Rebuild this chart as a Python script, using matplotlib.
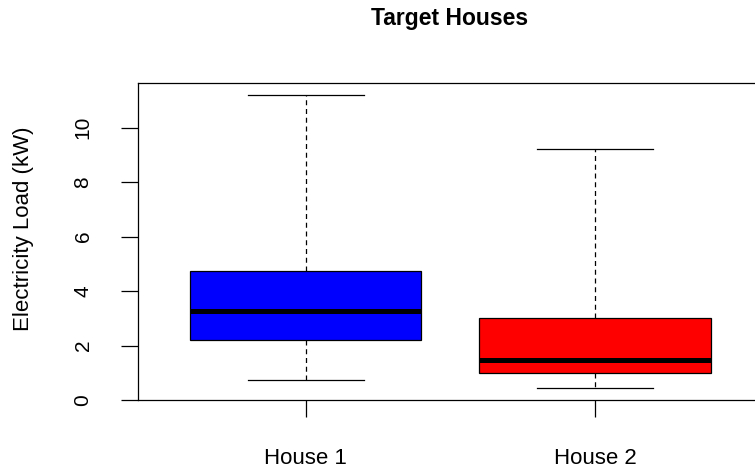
import matplotlib
matplotlib.use("Agg")
import matplotlib.pyplot as plt

plt.rcParams['font.family'] = ['Liberation Sans', 'DejaVu Sans']

# Five-number summaries of electricity load per house (kW)
houses = ["House 1", "House 2"]
whisker_low = [0.75, 0.44]
q1 = [2.20, 0.99]
median = [3.26, 1.47]
q3 = [4.75, 3.00]
whisker_high = [11.21, 9.21]
fill_colors = ["#0000FF", "#FF0000"]

stats = []
for i, name in enumerate(houses):
    stats.append(dict(label=name, whislo=whisker_low[i], q1=q1[i], med=median[i],
                      q3=q3[i], whishi=whisker_high[i], fliers=[]))

fig = plt.figure(figsize=(7.55, 4.71), dpi=100)
ax = fig.add_axes([137.7 / 755, 1 - 400 / 471, (763 - 137.7) / 755, (400 - 83.3) / 471])

bp = ax.bxp(stats, positions=[1, 2], widths=0.8, patch_artist=True,
            showfliers=False, manage_ticks=False,
            boxprops=dict(linewidth=0.9, edgecolor="black"),
            medianprops=dict(color="black", linewidth=3.6, solid_capstyle="butt"),
            whiskerprops=dict(color="black", linewidth=0.9, linestyle=(0, (4, 3))),
            capprops=dict(color="black", linewidth=0.9),
            capwidths=0.4)
for patch, c in zip(bp["boxes"], fill_colors):
    patch.set_facecolor(c)

ax.set_xlim(0.42, 2.58)
ax.set_ylim(0, 11.63)
ax.set_xticks([1, 2])
ax.set_xticklabels(houses, fontsize=16)
ax.set_yticks([0, 2, 4, 6, 8, 10])
ax.set_yticklabels(["0", "2", "4", "6", "8", "10"], fontsize=15, rotation=90, va="center")
ax.tick_params(axis="both", length=12.5, width=0.9, color="black")
ax.tick_params(axis="x", pad=22)
ax.tick_params(axis="y", pad=20)
for s in ax.spines.values():
    s.set_linewidth(0.9)

fig.text(24 / 755, 1 - 229 / 471, "Electricity Load (kW)", rotation=90,
         ha="center", va="center", fontsize=16)
fig.text(450 / 755, 1 - 18 / 471, "Target Houses", ha="center", va="center",
         fontsize=16.5, fontweight="bold")

fig.savefig("out.png", dpi=100)
